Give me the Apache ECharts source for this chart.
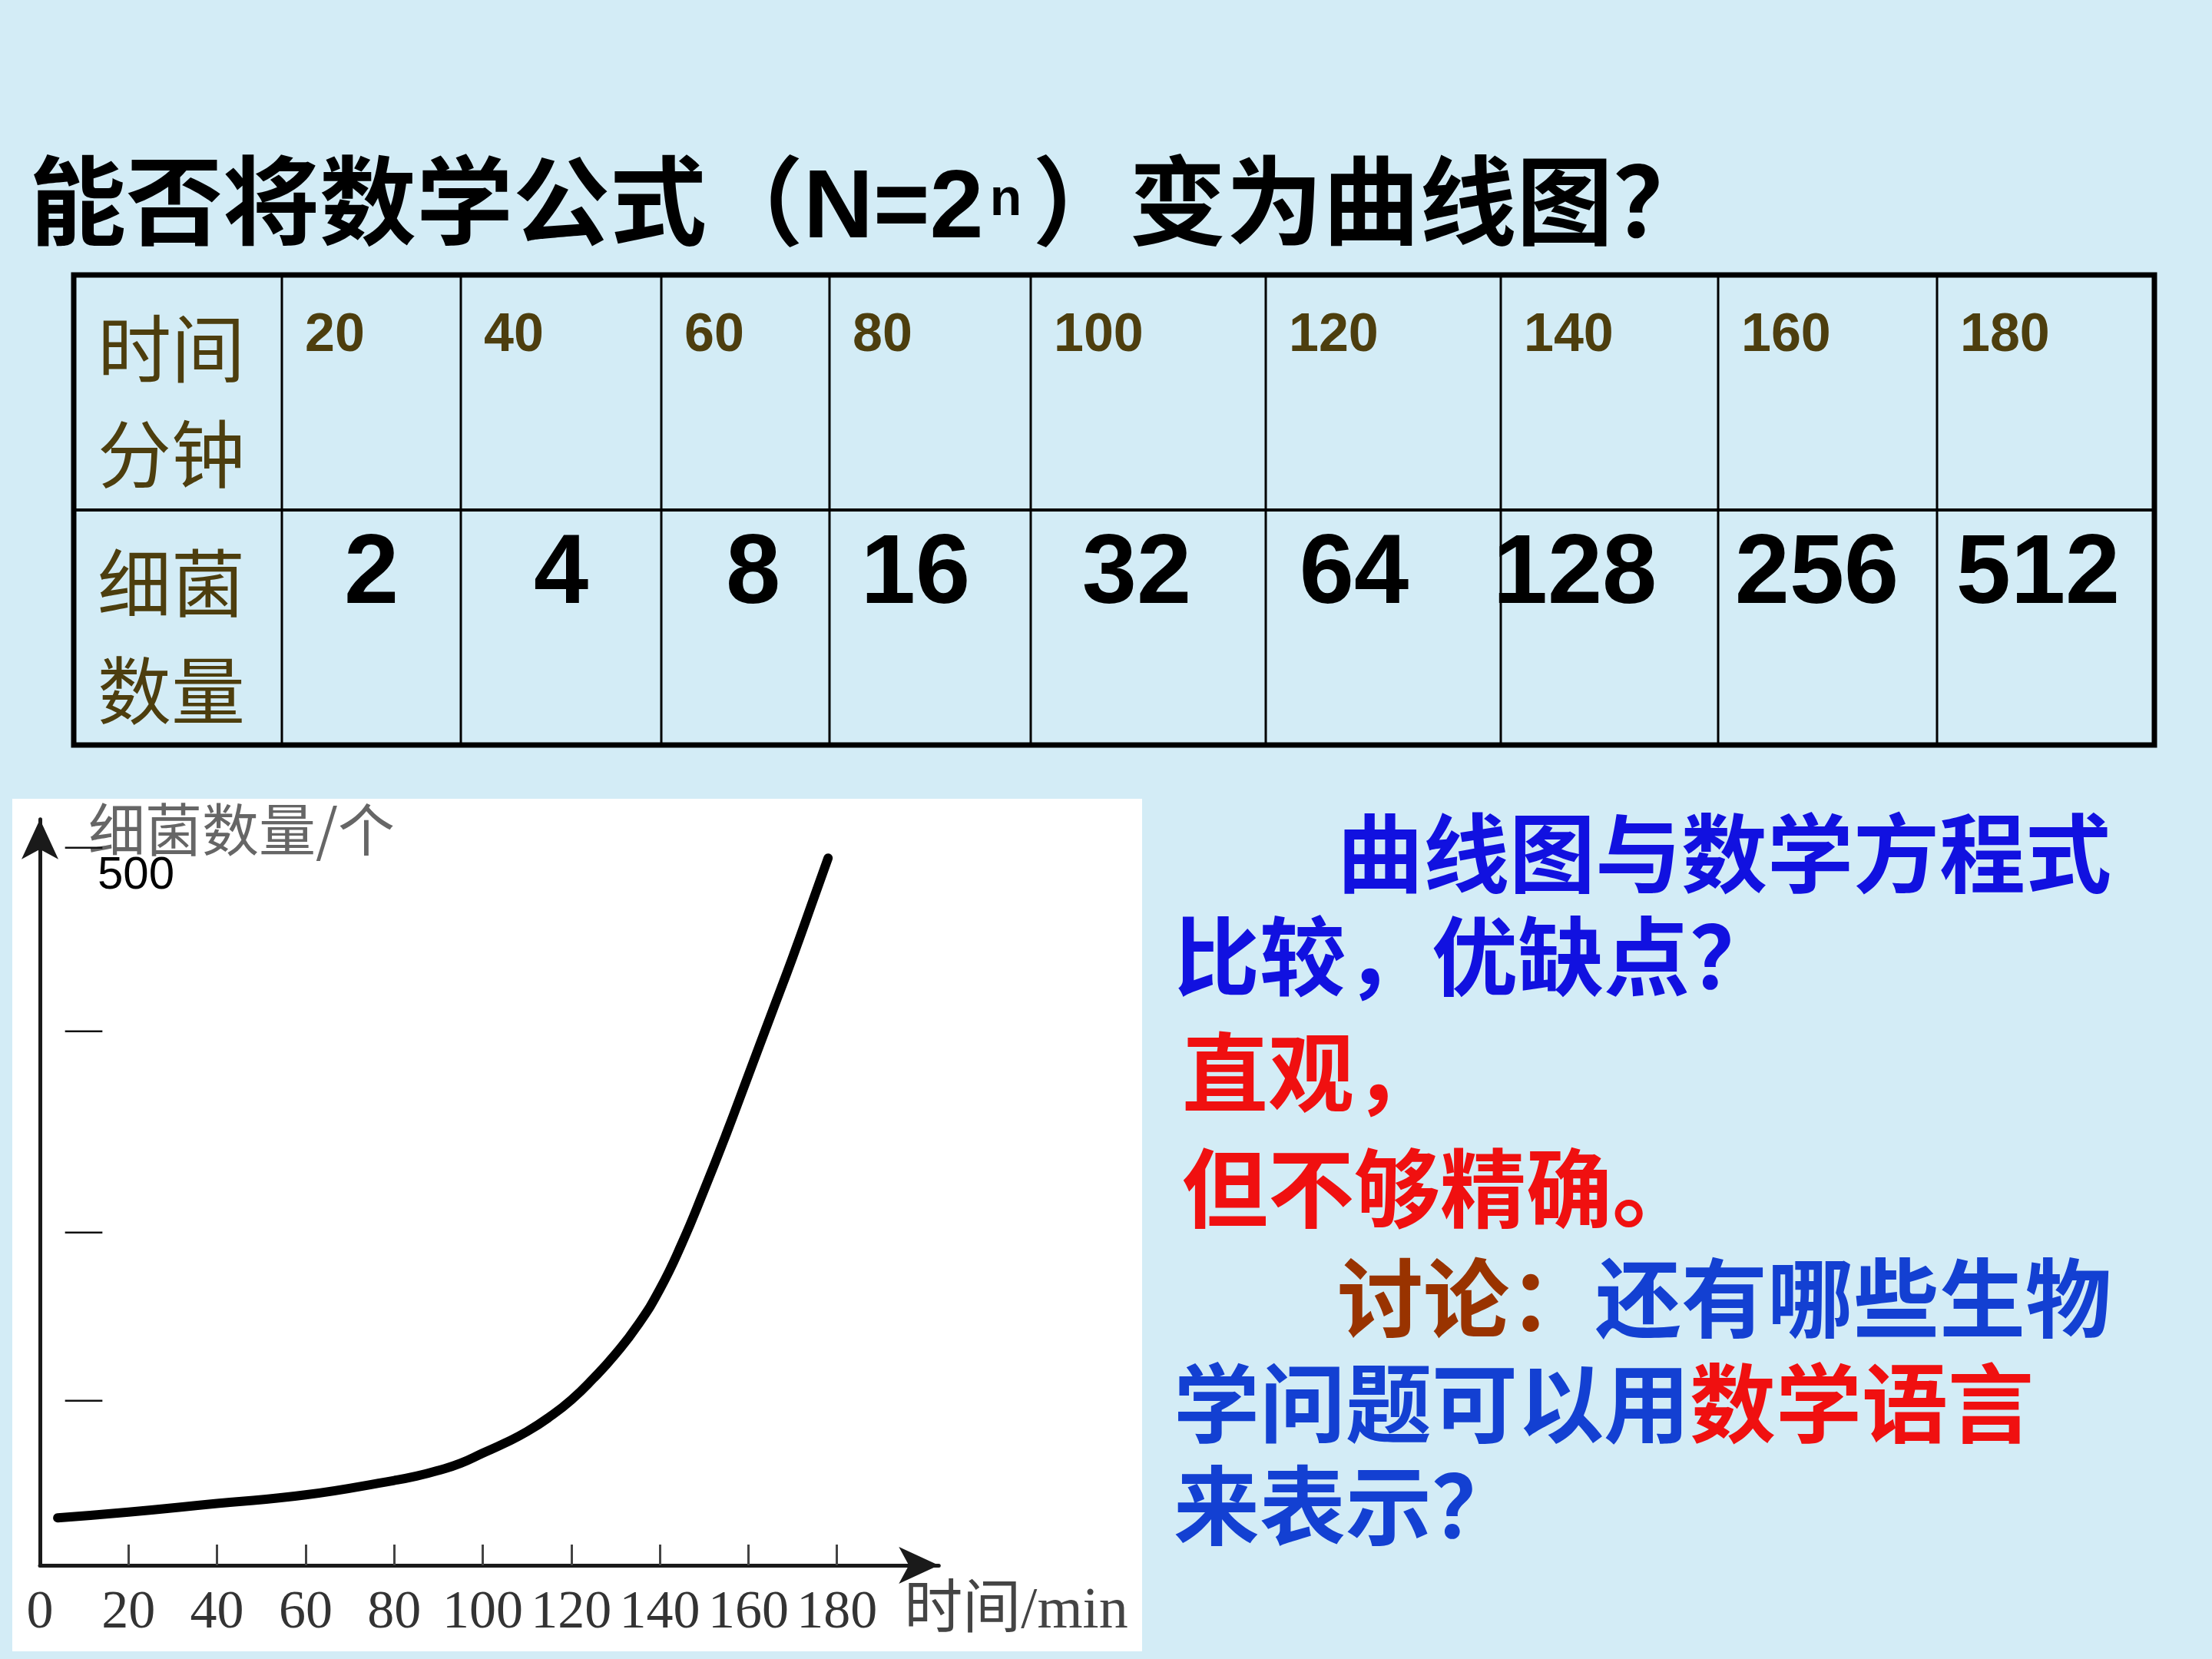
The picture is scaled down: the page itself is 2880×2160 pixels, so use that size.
<!DOCTYPE html>
<html>
<head>
<meta charset="utf-8">
<script src="https://cdn.jsdelivr.net/npm/echarts@6.0.0/dist/echarts.min.js"></script>
<style>
html, body { margin: 0; padding: 0; background: #d3ecf6; }
#c { width: 2880px; height: 2160px; }
</style>
</head>
<body>
<div id="c"></div>
<script>
// ---------- data ----------
const tableTimes = [20, 40, 60, 80, 100, 120, 140, 160, 180];
const tableCounts = [2, 4, 8, 16, 32, 64, 128, 256, 512];
const timeHeader = ['时间', '分钟'];
const countHeader = ['细菌', '数量'];
const curveTime = [4, 20, 40, 60, 80, 85, 90, 95, 100, 105, 110, 115, 120, 125, 130, 135, 140, 145, 150, 155, 160, 165, 170, 175, 178];
const curveCount = [33, 37, 43, 49, 59, 62, 66, 71, 78, 85, 93, 103, 115, 130, 147, 167, 192, 224, 261, 300, 341, 382, 423, 466, 492];
const xTickValues = [0, 20, 40, 60, 80, 100, 120, 140, 160, 180];
const yMarkValues = [115, 232, 372, 500];
const yLabelValues = [500];
const xAxisName = '时间/min';
const yAxisName = '细菌数量/个';
const noteLines = [
  [['曲线图与数学方程式', 'b1']],
  [['比较，优缺点？', 'b1']],
  [['直观，', 'r']],
  [['但不够精确。', 'r']],
  [['讨论：', 'br'], ['还有哪些生物', 'b2']],
  [['学问题可以用', 'b2'], ['数学语言', 'r']],
  [['来表示？', 'b2']]
];

// ---------- layout (not data) ----------
const colEdges = [96, 367, 600, 861, 1080, 1342, 1648, 1954, 2237, 2522, 2805];
const tableTop = 358, tableMid = 664, tableBottom = 970;
const countNudge = [0, 0, 10, -19, -15, -38, -45, -14, -10];
const noteLeft = [1741, 1528, 1539, 1539, 1741, 1528, 1528];
const noteY = [1111, 1245, 1396, 1547, 1690, 1827, 1960];
const X_MAX = 203, Y_MAX = 519, PX_X = 5.765, PX_Y = 1.8716, AXIS_X = 52, AXIS_Y = 2038;

const CJK = "'Noto Sans CJK SC'";
const olive = '#4d3e0e';

const graphics = [];
// white picture box behind the chart
graphics.push({ type: 'rect', z: -10, shape: { x: 16, y: 1040, width: 1471, height: 1110 }, style: { fill: '#ffffff' } });

// table frame
graphics.push({ type: 'rect', z: 5, shape: { x: colEdges[0], y: tableTop, width: colEdges[10] - colEdges[0], height: tableBottom - tableTop },
  style: { fill: 'none', stroke: '#000', lineWidth: 7 } });
graphics.push({ type: 'line', z: 5, shape: { x1: colEdges[0], y1: tableMid, x2: colEdges[10], y2: tableMid }, style: { stroke: '#000', lineWidth: 4 } });
for (let i = 1; i < colEdges.length - 1; i++) {
  graphics.push({ type: 'line', z: 5, shape: { x1: colEdges[i], y1: tableTop, x2: colEdges[i], y2: tableBottom }, style: { stroke: '#000', lineWidth: 3 } });
}
// row headers
const hdrY = [454, 591, 759, 899];
[...timeHeader, ...countHeader].forEach((t, i) => {
  graphics.push({ type: 'text', z: 6, x: 127, y: hdrY[i],
    style: { text: t, font: '96px ' + CJK, fill: olive, textAlign: 'left', textVerticalAlign: 'middle', align: 'left', verticalAlign: 'middle' } });
});
// time numbers
tableTimes.forEach((v, i) => {
  graphics.push({ type: 'text', z: 6, x: colEdges[i + 1] + 30, y: 438,
    style: { text: String(v), font: 'bold 70px "Liberation Sans"', fill: olive, textAlign: 'left', textVerticalAlign: 'middle', align: 'left', verticalAlign: 'middle' } });
});
// counts
tableCounts.forEach((v, i) => {
  const cx = (colEdges[i + 1] + colEdges[i + 2]) / 2 + countNudge[i];
  graphics.push({ type: 'text', z: 6, x: cx, y: 750,
    style: { text: String(v), font: 'bold 128px "Liberation Sans"', fill: '#000', textAlign: 'center', textVerticalAlign: 'middle', align: 'center', verticalAlign: 'middle' } });
});
// notes on the right
const noteRich = {
  b1: { fill: '#1111e0', fontSize: 112, fontWeight: 'bold', fontFamily: 'Noto Sans CJK SC' },
  b2: { fill: '#1340d2', fontSize: 112, fontWeight: 'bold', fontFamily: 'Noto Sans CJK SC' },
  r: { fill: '#f01010', fontSize: 112, fontWeight: 'bold', fontFamily: 'Noto Sans CJK SC' },
  br: { fill: '#993300', fontSize: 112, fontWeight: 'bold', fontFamily: 'Noto Sans CJK SC' }
};
noteLines.forEach((segs, i) => {
  const txt = segs.map(s => '{' + s[1] + '|' + s[0] + '}').join('');
  graphics.push({ type: 'text', z: 6, x: noteLeft[i], y: noteY[i],
    style: { text: txt, rich: noteRich, font: 'bold 112px ' + CJK, textAlign: 'left', textVerticalAlign: 'middle', align: 'left', verticalAlign: 'middle' } });
});

const gridW = X_MAX * PX_X, gridH = Y_MAX * PX_Y;
const chart = echarts.init(document.getElementById('c'), null, { renderer: 'canvas', width: 2880, height: 2160 });
chart.setOption({
  backgroundColor: '#d3ecf6',
  animation: false,
  title: {
    text: '能否将数学公式（N=2{sup|n}）变为曲线图？',
    left: 33, top: 206,
    textStyle: {
      fontSize: 126, fontWeight: 'bold', color: '#000',
      fontFamily: "'Liberation Sans','Noto Sans CJK SC'",
      rich: { sup: { fontSize: 68, fontWeight: 'bold', color: '#000', fontFamily: 'Liberation Sans', padding: [0, 14, 26, 8] } }
    }
  },
  grid: { left: AXIS_X, top: AXIS_Y - gridH, width: gridW, height: gridH, containLabel: false, outerBoundsMode: 'none' },
  xAxis: {
    type: 'value', min: 0, max: X_MAX,
    axisLine: { show: true, onZero: false, symbol: ['none', 'arrow'], symbolSize: [36, 52], lineStyle: { color: '#1a1a1a', width: 5 } },
    axisTick: { show: true, inside: true, length: 27, customValues: xTickValues.slice(1), lineStyle: { color: '#444', width: 3 } },
    axisLabel: { customValues: xTickValues, fontFamily: 'Liberation Serif', fontSize: 70, color: '#333', margin: 28 },
    splitLine: { show: false },
    name: '{n|' + xAxisName + '}', nameLocation: 'end', nameGap: -45, nameMoveOverlap: false,
    nameTextStyle: {
      align: 'left',
      rich: { n: { fontFamily: "'Liberation Serif','Noto Sans CJK SC'", fontSize: 76, color: '#444', padding: [122, 0, 0, 0] } }
    }
  },
  yAxis: [
    {
      type: 'value', min: 0, max: Y_MAX, position: 'left',
      axisLine: { show: true, onZero: false, symbol: ['none', 'arrow'], symbolSize: [36, 52], lineStyle: { color: '#1a1a1a', width: 5 } },
      axisTick: { show: false }, splitLine: { show: false },
      axisLabel: { customValues: yMarkValues, inside: true, margin: 33, formatter: () => '—', fontFamily: 'Liberation Serif', fontSize: 48, color: '#111' },
      name: yAxisName, nameLocation: 'end', nameGap: -13, nameMoveOverlap: false,
      nameTextStyle: { fontFamily: CJK, fontSize: 74, color: '#666', align: 'left', verticalAlign: 'middle', padding: [0, 0, 0, 63] }
    },
    {
      type: 'value', min: 0, max: Y_MAX, position: 'left', offset: 0,
      axisLine: { show: false }, axisTick: { show: false }, splitLine: { show: false },
      axisLabel: { customValues: yLabelValues, inside: true, margin: 75, fontFamily: 'Liberation Sans', fontSize: 60, color: '#000', verticalAlign: 'top', padding: [8, 0, 0, 0] }
    }
  ],
  series: [{
    type: 'line', xAxisIndex: 0, yAxisIndex: 0,
    data: curveTime.map((t, i) => [t, curveCount[i]]),
    smooth: 0.5, showSymbol: false, symbol: 'none', silent: true, z: 3,
    lineStyle: { color: '#000', width: 12, cap: 'round' }
  }],
  graphic: { elements: graphics }
});
</script>
</body>
</html>
